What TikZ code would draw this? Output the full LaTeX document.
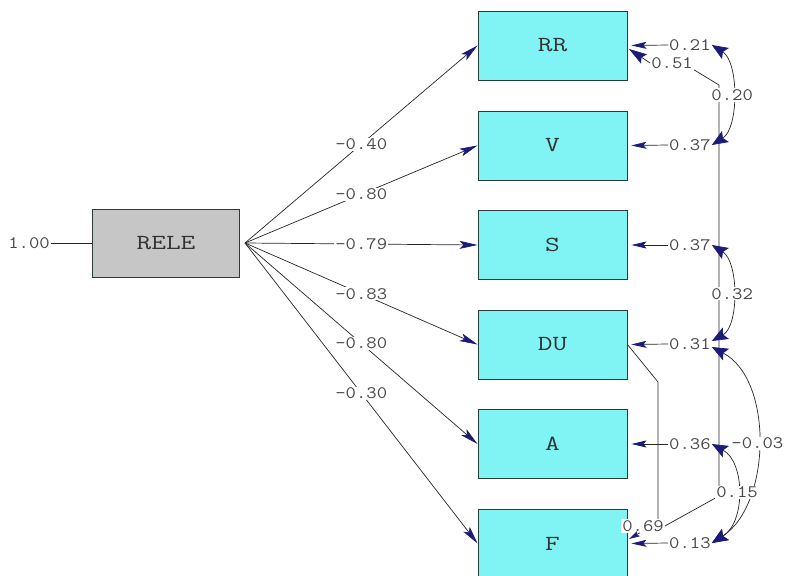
\documentclass[tikz,border=0pt]{standalone}
\usepackage{fontspec}
\usepackage{graphicx}
\usetikzlibrary{arrows.meta}
\definecolor{boxcyan}{RGB}{128,244,244}
\definecolor{relegray}{RGB}{198,198,198}
\definecolor{tipnavy}{RGB}{28,28,120}
\definecolor{txtgray}{RGB}{72,72,72}
\definecolor{edgecol}{RGB}{40,60,60}
\newcommand\numfont{\ttfamily\fontsize{17.5}{19}\selectfont}
\newcommand\boxfont{\ttfamily\fontsize{21.5}{24}\selectfont}
\newcommand\nx[1]{\scalebox{1.15}[1]{#1}}
\newcommand\bx[1]{\scalebox{1.33}[1]{#1}}
\pgfdeclarelayer{bg}
\pgfsetlayers{bg,main}
\tikzset{
 obs/.style={draw=edgecol, line width=0.9pt, fill=boxcyan, minimum width=149pt, minimum height=69pt, inner sep=0pt, font=\boxfont, text=black!80},
 lat/.style={obs, fill=relegray, minimum width=147pt, minimum height=68pt},
 num/.style={font=\numfont, text=txtgray, inner sep=1pt},
 numw/.style={num, fill=white},
 plain/.style={draw=black!85, line width=0.7pt},
 load/.style={plain, -{Stealth[length=18pt,width=8pt,inset=4pt,color=tipnavy]}},
 err/.style={plain, -{Stealth[length=15pt,width=7pt,inset=3pt,color=tipnavy]}},
 cov/.style={plain, {Stealth[length=16pt,width=13pt,inset=3pt,color=tipnavy]}-{Stealth[length=16pt,width=13pt,inset=3pt,color=tipnavy]}},
 bigtip/.style={plain, -{Stealth[length=18pt,width=11pt,inset=3pt,color=tipnavy]}},
 smalltip/.style={plain, -{Stealth[length=11pt,width=6pt,inset=2pt,color=tipnavy]}}
}
\begin{document}
\begin{tikzpicture}[x=1pt,y=-1pt]
\useasboundingbox (0,0) rectangle (785,576);
\begin{pgfonlayer}{bg}
\fill[white] (0,0) rectangle (785,576);
\end{pgfonlayer}
% boxes
\node[lat] (rele) at (166,243) {\bx{RELE}};
\node[obs] (rr) at (552.5,45.5) {\bx{RR}};
\node[obs] (v) at (552.5,145.5) {\bx{V}};
\node[obs] (s) at (552.5,245) {\bx{S}};
\node[obs] (du) at (552.5,344.5) {\bx{DU}};
\node[obs] (a) at (552.5,444) {\bx{A}};
\node[obs] (f) at (552.5,543.5) {\bx{F}};
% RELE variance
\node[num] (one) at (29,243) {\nx{1.00}};
\draw[plain] (one) -- (rele);
% loadings
\coordinate (src) at (245,243);
\draw[load] (src) -- node[numw]{\nx{-0.40}} (rr.west);
\draw[load] (src) -- node[numw]{\nx{-0.80}} (v.west);
\draw[load] (src) -- node[numw]{\nx{-0.79}} (s.west);
\draw[load] (src) -- node[numw]{\nx{-0.83}} (du.west);
\draw[load] (src) -- node[numw]{\nx{-0.80}} (a.west);
\draw[load] (src) -- node[numw]{\nx{-0.30}} (f.west);
% error variances
\node[num,anchor=west] (e1) at (668,45) {\nx{0.21}};
\node[num,anchor=west] (e2) at (668,145) {\nx{0.37}};
\node[num,anchor=west] (e3) at (668,245) {\nx{0.37}};
\node[num,anchor=west] (e4) at (668,344) {\nx{0.31}};
\node[num,anchor=west] (e5) at (668,444) {\nx{0.36}};
\node[num,anchor=west] (e6) at (668,543) {\nx{0.13}};
\draw[err] (e1.west) -- ([xshift=4pt]rr.east);
\draw[err] (e2.west) -- ([xshift=4pt]v.east);
\draw[err] (e3.west) -- ([xshift=4pt]s.east);
\draw[err] (e4.west) -- ([xshift=4pt]du.east);
\draw[err] (e5.west) -- ([xshift=4pt]a.east);
\draw[err] (e6.west) -- ([xshift=4pt]f.east);
% direct paths between observed variables
\node[numw] (l51) at (672,63) {\nx{0.51}};
\node[numw] (l69) at (643,526) {\nx{0.69}};
\coordinate (k1) at (719,85);
\coordinate (k2) at (719,496);
\coordinate (k3) at (658,382);
\coordinate (k4) at (658,522);
\coordinate (t51) at (629,49);
\coordinate (t69) at (629,539);
\begin{pgfonlayer}{bg}
\draw[plain] (l51.south east) -- (k1) -- (k2) -- (l69.east);
\draw[plain] (du.east) -- (k3) -- (k4);
\end{pgfonlayer}
\draw[bigtip] (l51.west) -- (t51);
\draw[smalltip] ([xshift=-3pt]l69.south) -- (t69);
% error covariances
\draw[cov] (e1.east) .. controls (739,62) and (739,128) .. node[numw]{\nx{0.20}} (e2.east);
\draw[cov] (e3.east) .. controls (739,262) and (739,326) .. node[numw]{\nx{0.32}} ([yshift=3pt]e4.east);
\draw[cov] ([yshift=-3pt]e4.east) .. controls (774,380) and (771,505) .. node[numw]{\nx{-0.03}} (e6.east);
\draw[cov] (e5.east) .. controls (745,462) and (746,522) .. node[numw]{\nx{0.15}} (e6.east);
\end{tikzpicture}
\end{document}
